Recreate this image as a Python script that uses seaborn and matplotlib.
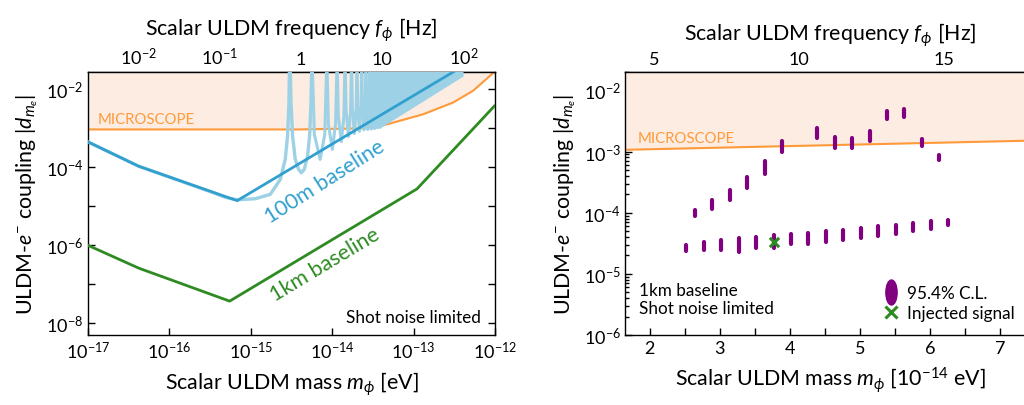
import numpy as np
import pandas as pd
import matplotlib
matplotlib.use('Agg')
import matplotlib.pyplot as plt
import seaborn as sns
from matplotlib.ticker import FixedLocator, NullLocator, FuncFormatter, LogLocator, MultipleLocator
from matplotlib.path import Path
from matplotlib.transforms import Affine2D
from matplotlib.lines import Line2D

H_EV_S = 4.135667e-15  # Planck constant in eV s


def ev_to_hz(m):
    return np.asarray(m) / H_EV_S


def hz_to_ev(f):
    return np.asarray(f) * H_EV_S


# ---------------- left panel: sensitivity curves (mass in eV) ----------------
m_100m = [1e-17, 4.2e-17, 6.8e-16, 5.0e-13]
d_100m = [4.5e-4, 1.07e-4, 1.4e-5, 5.15e-2]

m_1km = [1e-17, 4.2e-17, 5.5e-16, 1.1e-13, 1e-12]
d_1km = [1e-6, 2.6e-7, 3.7e-8, 2.8e-5, 3.9e-3]

m_micro = [1e-17, 4e-15, 2.2e-14, 4.2e-14, 1.3e-13, 3.05e-13, 5.4e-13, 1e-12]
d_micro = [9.4e-4, 9.4e-4, 1.0e-3, 1.19e-3, 2.29e-3, 4.6e-3, 9.3e-3, 2.9e-2]

# full 100m response (frequency in Hz), first two lobes read point by point
light_f0 = [2.42e-3, 0.01016, 0.0837, 0.1175, 0.165, 0.275, 0.42, 0.557, 0.641, 0.684, 0.712, 0.724]
light_d0 = [4.5e-4, 1.07e-4, 2.24e-5, 1.70e-5, 1.47e-5, 1.57e-5, 2.03e-5, 4.93e-5, 1.60e-4, 6.35e-4, 4.64e-3, 5.9e-2]
light_f1 = [0.735, 0.754, 0.789, 0.851, 0.934, 1.009, 1.098, 1.205, 1.276, 1.327, 1.365]
light_d1 = [5.9e-2, 4.64e-3, 6.35e-4, 1.60e-4, 8.9e-5, 7.3e-5, 8.9e-5, 1.95e-4, 6.35e-4, 4.64e-3, 5.9e-2]

# narrower lobes: edges (divergences), floors and shoulders
lobe_edges_hz = [1.37, 2.08, 2.78, 3.48, 4.18, 4.88, 5.58, 6.28, 6.98, 7.68, 8.38, 9.08, 9.78]
lobe_floor_hz = [1.72, 2.43, 3.13, 3.83, 4.53, 5.23, 5.93, 6.63, 7.33, 8.03, 8.73, 9.43]
lobe_floor_d = [1.6e-4, 2.9e-4, 4.6e-4, 6.2e-4, 7.4e-4, 8.4e-4, 9.2e-4, 9.4e-4, 9.6e-4, 9.9e-4, 1.03e-3, 1.06e-3]
lobe_sh_lo_hz = [1.46, 2.17, 2.87, 3.58, 4.28, 4.98, 5.68, 6.38, 7.08, 7.78, 8.48, 9.18]
lobe_sh_hi_hz = [1.96, 2.66, 3.37, 4.07, 4.77, 5.47, 6.17, 6.87, 7.57, 8.27, 8.97, 9.67]
lobe_sh_d = [7e-4, 1.3e-3, 2.1e-3, 2.8e-3, 3.3e-3, 3.8e-3, 4.1e-3, 4.2e-3, 4.3e-3, 4.5e-3, 4.6e-3, 4.8e-3]
lobe_top_d = 6e-2

# dense oscillation band
band_f = [9.4, 29.2, 90.6, 98.0]
band_lo = [1.04e-3, 4.56e-3, 2.0e-2, 2.2e-2]

# ---------------- right panel: reconstructed points (mass in 1e-14 eV) ----------------
upper_m = [2.648, 2.895, 3.148, 3.395, 3.643, 3.890, 4.386, 4.638, 4.890, 5.138, 5.386, 5.633, 5.881, 6.133]
upper_lo = [8.8e-5, 1.16e-4, 1.64e-4, 2.54e-4, 4.34e-4, 9.77e-4, 1.65e-3, 1.14e-3, 1.14e-3, 1.49e-3,
            3.36e-3, 3.72e-3, 1.21e-3, 7.33e-4]
upper_hi = [1.10e-4, 1.60e-4, 2.32e-4, 3.79e-4, 6.89e-4, 1.51e-3, 2.40e-3, 1.71e-3, 1.65e-3, 2.20e-3,
            4.59e-3, 5.01e-3, 1.59e-3, 8.84e-4]
lower_m = [2.519, 2.771, 3.019, 3.271, 3.519, 3.767, 4.014, 4.262, 4.514, 4.762, 5.014, 5.262,
           5.514, 5.762, 6.010, 6.257]
lower_lo = [2.37e-5, 2.43e-5, 2.43e-5, 2.31e-5, 2.62e-5, 2.69e-5, 3.04e-5, 3.04e-5, 3.32e-5, 3.57e-5,
            3.85e-5, 4.15e-5, 4.48e-5, 4.94e-5, 5.47e-5, 6.27e-5]
lower_hi = [2.93e-5, 3.32e-5, 3.53e-5, 3.90e-5, 4.06e-5, 4.26e-5, 4.53e-5, 4.71e-5, 5.01e-5, 5.26e-5,
            5.53e-5, 5.97e-5, 6.35e-5, 6.84e-5, 7.28e-5, 7.46e-5]
inj_m = [3.77]
inj_d = [3.37e-5]
micro_r_m = [1.6, 7.5]
micro_r_d = [1.065e-3, 1.515e-3]

BLUE = '#31a0cf'
LIGHT = '#9dd1e6'
GREEN = '#2e8b22'
ORANGE = '#ff9a3a'
SHADE = '#fcece2'
PURPLE = '#800080'

sns.set_style('ticks')
plt.rcParams['font.family'] = ['Lato', 'DejaVu Sans']
plt.rcParams['mathtext.fontset'] = 'custom'
plt.rcParams['mathtext.rm'] = 'Lato'
plt.rcParams['mathtext.it'] = 'Lato:italic'
plt.rcParams['mathtext.bf'] = 'Lato:bold'
for k in ['text.color', 'axes.labelcolor', 'xtick.color', 'ytick.color', 'axes.edgecolor']:
    plt.rcParams[k] = 'black'
plt.rcParams['axes.linewidth'] = 1.0

fig = plt.figure(figsize=(10.24, 4.06), dpi=100)
ax1 = fig.add_axes([0.0859, 0.1724, 0.3975, 0.6478])
ax2 = fig.add_axes([0.6108, 0.1724, 0.4000, 0.6478])

LABEL_FS = 15.4
TICK_FS = 13
TEXT_FS = 12.3

# ================= left panel =================
ax1.set_xscale('log')
ax1.set_yscale('log')
ax1.set_xlim(1e-17, 1e-12)
ax1.set_ylim(5e-9, 2.8e-2)

ax1.fill_between(m_micro, d_micro, 1.0, color=SHADE, lw=0, zorder=1)
sns.lineplot(x=m_micro, y=d_micro, ax=ax1, color=ORANGE, lw=1.5, sort=False, estimator=None, zorder=2)

# light blue full response
sns.lineplot(x=hz_to_ev(light_f0), y=light_d0, ax=ax1, color=LIGHT, lw=2.4, sort=False,
             estimator=None, zorder=3)
sns.lineplot(x=hz_to_ev(light_f1), y=light_d1, ax=ax1, color=LIGHT, lw=2.4, sort=False,
             estimator=None, zorder=3)
rows = []
for i in range(len(lobe_floor_hz)):
    pts = [(lobe_edges_hz[i], lobe_top_d), (lobe_sh_lo_hz[i], lobe_sh_d[i]),
           (lobe_floor_hz[i], lobe_floor_d[i]), (lobe_sh_hi_hz[i], lobe_sh_d[i]),
           (lobe_edges_hz[i + 1], lobe_top_d)]
    for j, (f, d) in enumerate(pts):
        rows.append({'lobe': i, 'order': j, 'm': f * H_EV_S, 'd': d})
lobes = pd.DataFrame(rows)
sns.lineplot(data=lobes, x='m', y='d', units='lobe', estimator=None, sort=False, ax=ax1,
             color=LIGHT, lw=2.2, zorder=3)
ax1.fill_between(hz_to_ev(band_f), band_lo, 1.0, color=LIGHT, lw=0, zorder=3)

sns.lineplot(x=m_100m, y=d_100m, ax=ax1, color=BLUE, lw=2.0, sort=False, estimator=None, zorder=4)
sns.lineplot(x=m_1km, y=d_1km, ax=ax1, color=GREEN, lw=2.0, sort=False, estimator=None, zorder=4)

ax1.text(1.33e-17, 1.7e-3, 'MICROSCOPE', color=ORANGE, fontsize=10.7, va='center', ha='left', zorder=5)
ax1.text(8.2e-15, 4.5e-5, '100m baseline', color=BLUE, fontsize=15.5, rotation=32.5,
         ha='center', va='center', rotation_mode='anchor', zorder=5)
ax1.text(8.2e-15, 3.3e-7, '1km baseline', color=GREEN, fontsize=15.5, rotation=31,
         ha='center', va='center', rotation_mode='anchor', zorder=5)
ax1.text(0.965, 0.07, 'Shot noise limited', transform=ax1.transAxes, fontsize=TEXT_FS,
         ha='right', va='center')

xt = [10.0 ** k for k in range(-17, -11)]
ax1.xaxis.set_major_locator(FixedLocator(xt))
ax1.xaxis.set_minor_locator(NullLocator())
ax1.set_xticklabels([f'$10^{{{k}}}$' for k in range(-17, -11)])
yt = [10.0 ** k for k in range(-9, 0)]
ax1.yaxis.set_major_locator(FixedLocator(yt))
ax1.yaxis.set_minor_locator(NullLocator())
ax1.yaxis.set_major_formatter(FuncFormatter(
    lambda v, p: f'$10^{{{int(round(np.log10(v)))}}}$' if int(round(np.log10(v))) % 2 == 0 else ''))
ax1.tick_params(which='both', direction='in', length=5, width=1, labelsize=TICK_FS,
                top=False, right=True)
ax1.set_xlabel(r'Scalar ULDM mass $m_\phi$ [eV]', fontsize=LABEL_FS, labelpad=6)
ax1.set_ylabel(r'ULDM-$e^{-}$ coupling $|d_{m_e}|$', fontsize=LABEL_FS, labelpad=4)

sec1 = ax1.secondary_xaxis('top', functions=(ev_to_hz, hz_to_ev))
sec1.xaxis.set_major_locator(FixedLocator([1e-2, 1e-1, 1, 10, 100]))
sec1.xaxis.set_minor_locator(NullLocator())
sec1.set_xticklabels(['$10^{-2}$', '$10^{-1}$', '1', '10', '$10^{2}$'])
sec1.tick_params(direction='in', length=5, width=1, labelsize=TICK_FS)
sec1.set_xlabel(r'Scalar ULDM frequency $f_\phi$ [Hz]', fontsize=LABEL_FS, labelpad=8)

# ================= right panel =================
ax2.set_yscale('log')
ax2.set_xlim(1.653, 7.5)
ax2.set_ylim(1e-6, 2e-2)

ax2.fill_between(micro_r_m, micro_r_d, 1.0, color=SHADE, lw=0, zorder=1)
sns.lineplot(x=micro_r_m, y=micro_r_d, ax=ax2, color=ORANGE, lw=1.5, sort=False, estimator=None, zorder=2)
ax2.text(1.83, 1.69e-3, 'MICROSCOPE', color=ORANGE, fontsize=10.7, va='center', ha='left', zorder=5)

ax2.vlines(upper_m, upper_lo, upper_hi, color=PURPLE, lw=3.0, capstyle='round', zorder=3)
ax2.vlines(lower_m, lower_lo, lower_hi, color=PURPLE, lw=3.0, capstyle='round', zorder=3)
sns.scatterplot(x=inj_m, y=inj_d, ax=ax2, marker='x', color=GREEN, s=45, linewidth=2.2, zorder=4)

ax2.text(0.033, 0.137, '1km baseline\nShot noise limited', transform=ax2.transAxes,
         fontsize=TEXT_FS, ha='left', va='center', linespacing=1.2)

ell = Path.unit_circle().transformed(Affine2D().scale(0.45, 1.0))
handles = [Line2D([], [], ls='', marker=ell, color=PURPLE, markersize=18),
           Line2D([], [], ls='', marker='x', color=GREEN, markersize=8, markeredgewidth=2.2)]
ax2.legend(handles, ['95.4% C.L.', 'Injected signal'], loc='lower left',
           bbox_to_anchor=(0.628, 0.055), frameon=False, fontsize=TEXT_FS, handlelength=1.0,
           handletextpad=0.45, labelspacing=0.2, borderpad=0, borderaxespad=0)

ax2.xaxis.set_major_locator(FixedLocator([2, 3, 4, 5, 6, 7]))
ax2.xaxis.set_minor_locator(FixedLocator([2.5, 3.5, 4.5, 5.5, 6.5, 7.5]))
ax2.yaxis.set_major_locator(LogLocator(base=10, numticks=10))
ax2.yaxis.set_minor_locator(LogLocator(base=10, subs=np.arange(2, 10), numticks=20))
ax2.tick_params(which='both', direction='in', width=1, labelsize=TICK_FS, top=False, right=True)
ax2.tick_params(which='major', length=5)
ax2.tick_params(which='minor', length=5, axis='x')
ax2.tick_params(which='minor', length=3, axis='y')
ax2.set_xlabel(r'Scalar ULDM mass $m_\phi$ [$10^{-14}$ eV]', fontsize=LABEL_FS, labelpad=6)
ax2.set_ylabel(r'ULDM-$e^{-}$ coupling $|d_{m_e}|$', fontsize=LABEL_FS, labelpad=4)

sec2 = ax2.secondary_xaxis('top', functions=(lambda m: np.asarray(m) * 1e-14 / H_EV_S,
                                             lambda f: np.asarray(f) * H_EV_S / 1e-14))
sec2.xaxis.set_major_locator(FixedLocator([5, 10, 15]))
sec2.xaxis.set_minor_locator(MultipleLocator(1))
sec2.tick_params(which='both', direction='in', length=5, width=1, labelsize=TICK_FS)
sec2.set_xlabel(r'Scalar ULDM frequency $f_\phi$ [Hz]', fontsize=LABEL_FS, labelpad=8)

fig.savefig('out.png', dpi=100)
